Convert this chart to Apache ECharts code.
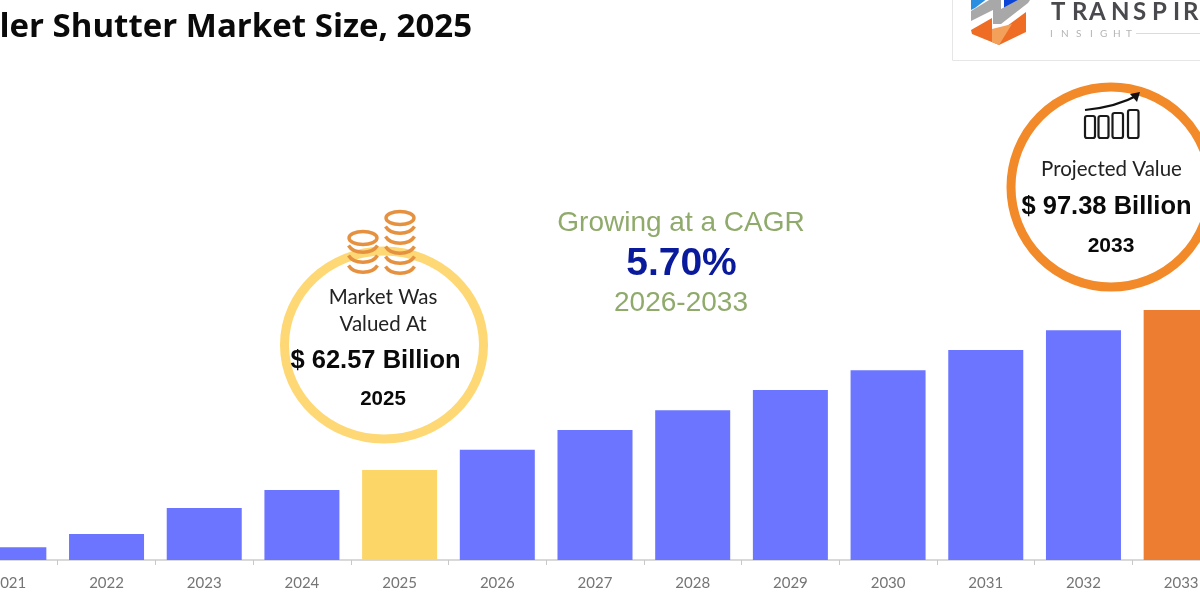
<!DOCTYPE html>
<html>
<head>
<meta charset="utf-8">
<title>Roller Shutter Market Size, 2025</title>
<script src="https://cdn.jsdelivr.net/npm/echarts@6/dist/echarts.min.js"></script>
<style>
html,body{margin:0;padding:0;background:#fff;overflow:hidden}
#chart{width:1200px;height:600px}
</style>
</head>
<body>
<div id="chart"></div>
<script>
// Market size in USD billion per year
const years = ['2021','2022','2023','2024','2025','2026','2027','2028','2029','2030','2031','2032','2033'];
const marketSize = [45.8,48.65,54.3,58.2,62.57,67.0,71.3,75.6,80.0,84.3,88.7,93.0,97.38];

const BASE_YEAR = '2025';
const FORECAST_YEAR = '2033';
const COLOR_BAR = '#6b75ff';
const COLOR_BASE = '#fdd668';
const COLOR_FORECAST = '#ed7d31';

const SANS = '"Liberation Sans", Arial, sans-serif';
const HUMAN = 'Lato, "Open Sans", sans-serif';
const HEADING = '"Open Sans", Lato, sans-serif';

const barColor = y => y === BASE_YEAR ? COLOR_BASE : y === FORECAST_YEAR ? COLOR_FORECAST : COLOR_BAR;

// Centred text helper for the callouts
const label = (x, y, text, size, fill, weight, family) => ({
  type: 'text', z: 20,
  style: { x, y, text, fill, font: `${weight || 'normal'} ${size}px ${family || SANS}`, textAlign: 'center', textVerticalAlign: 'middle' }
});

// One coin stack: a top ellipse and the curved rims below it
const coinStack = (cx, topY, rims) => {
  const out = [{ type: 'ellipse', z: 15, shape: { cx, cy: topY, rx: 14, ry: 6.5 }, style: { stroke: '#e6913f', lineWidth: 3.4, fill: 'none' } }];
  rims.forEach(y => out.push({
    type: 'bezierCurve', z: 15,
    shape: { x1: cx - 14.5, y1: y - 3.5, x2: cx + 14.5, y2: y - 3.5, cpx1: cx - 9, cpy1: y + 5.5, cpx2: cx + 9, cpy2: y + 5.5 },
    style: { stroke: '#e6913f', lineWidth: 3.4, fill: 'none' }
  }));
  return out;
};

// Four outlined columns with a rising arrow above them
const growthIcon = () => {
  const cols = [[1085,116,10,22],[1098.5,116,10,22],[1112.5,113,10.5,25],[1128,110,10.5,28]];
  const out = cols.map(c => ({
    type: 'rect', z: 15, shape: { x: c[0], y: c[1], width: c[2], height: c[3], r: 2 },
    style: { stroke: '#1a1a1a', lineWidth: 2.2, fill: 'none' }
  }));
  out.push({ type: 'bezierCurve', z: 15,
    shape: { x1: 1085, y1: 110, x2: 1138, y2: 95, cpx1: 1105, cpy1: 108, cpx2: 1122, cpy2: 104 },
    style: { stroke: '#111', lineWidth: 2.2, fill: 'none' } });
  out.push({ type: 'polygon', z: 15, shape: { points: [[1140,92],[1130,94],[1137,102]] }, style: { fill: '#111' } });
  return out;
};

// Brand block in the top right corner
const brand = () => {
  const out = [
    { type: 'rect', z: 5, shape: { x: 952.5, y: -10, width: 300, height: 70.5 }, style: { stroke: '#e6e6e6', lineWidth: 1, fill: '#fff' } },
    { type: 'polygon', z: 6, shape: { points: [[971,10],[971,-5],[992,-5],[975,8]] }, style: { fill: '#2a8fe0' } },
    { type: 'polygon', z: 6, shape: { points: [[1004,-5],[1030,-5],[1016,6],[1004,12]] }, style: { fill: '#0b45d8' } },
    { type: 'polygon', z: 6, shape: { points: [[971,21],[971,11],[994,-3],[1001,-3],[1001,9],[1029,-6],[1038,-2],[1030,0],[1028,3],[1001,24],[993,24],[993,10]] }, style: { fill: '#a8a8a8' } },
    { type: 'polygon', z: 6, shape: { points: [[971,30],[992,18],[992,29],[1003,29],[1026,12],[1026,32],[999,45],[972,34]] }, style: { fill: '#ee6c24' } },
    { type: 'polygon', z: 7, shape: { points: [[992,29],[1012,24],[999,45],[992,42]] }, style: { fill: '#f3a15a' } },
    { type: 'line', z: 6, shape: { x1: 1136, y1: 33.5, x2: 1200, y2: 33.5 }, style: { stroke: '#d5dde0', lineWidth: 1 } }
  ];
  const word = [['T',1051],['R',1072],['A',1089],['N',1111],['S',1133],['P',1152],['I',1173],['R',1183]];
  word.forEach(w => out.push({ type: 'text', z: 8,
    style: { x: w[1], y: 12.5, text: w[0], fill: '#4a4a4e', font: 'bold 24px ' + HUMAN, textAlign: 'left', textVerticalAlign: 'middle' } }));
  const sub = [['I',1050],['N',1061],['S',1076],['I',1090],['G',1100],['H',1113],['T',1126]];
  sub.forEach(w => out.push({ type: 'text', z: 8,
    style: { x: w[1], y: 33.5, text: w[0], fill: '#b4b4b4', font: '10px ' + HUMAN, textAlign: 'left', textVerticalAlign: 'middle' } }));
  return out;
};

const chart = echarts.init(document.getElementById('chart'), null, { renderer: 'canvas' });
chart.setOption({
  animation: false,
  backgroundColor: '#fff',
  grid: { left: -40, width: 1270, top: 60, bottom: 40, containLabel: false, outerBoundsMode: 'none' },
  xAxis: {
    type: 'category',
    data: years,
    axisLine: { lineStyle: { color: '#d9d9d9', width: 2 } },
    axisTick: { show: true, length: 5, lineStyle: { color: '#c8c8c8', width: 1 } },
    axisLabel: { color: '#757575', fontFamily: HUMAN, fontSize: 15, margin: 16, interval: 0, hideOverlap: false, showMinLabel: true, showMaxLabel: true }
  },
  // Baseline sits above zero, as the bars are drawn on a truncated scale
  yAxis: { type: 'value', min: 43, max: 151.76, show: false, splitLine: { show: false } },
  series: [{
    type: 'bar',
    barWidth: 75,
    data: marketSize.map((v, i) => ({ value: v, itemStyle: { color: barColor(years[i]) } }))
  }],
  graphic: [
    { type: 'text', z: 20, style: { x: 472, y: 27.5, text: 'Roller Shutter Market Size, 2025', fill: '#0a0a0a',
        font: 'bold 33px ' + HEADING, textAlign: 'right', textVerticalAlign: 'middle' } },

    ...brand(),

    { type: 'ellipse', z: 10, shape: { cx: 384, cy: 345, rx: 99.5, ry: 94 }, style: { stroke: '#fdd874', lineWidth: 9, fill: 'none' } },
    ...coinStack(363, 238, [249, 259, 269]),
    ...coinStack(400, 218, [230, 240, 250, 260, 270]),
    label(383, 297, 'Market Was', 20.5, '#222', 'normal', HUMAN),
    label(383, 324, 'Valued At', 20.5, '#222', 'normal', HUMAN),
    label(375.5, 361, '$ 62.57 Billion', 25.5, '#0a0a0a', 'bold'),
    label(383, 399, '2025', 20.5, '#0a0a0a', 'bold'),

    { type: 'circle', z: 10, shape: { cx: 1111, cy: 187, r: 100 }, style: { stroke: '#f28a2a', lineWidth: 9, fill: 'none' } },
    ...growthIcon(),
    label(1111.5, 169, 'Projected Value', 20.5, '#222', 'normal', HUMAN),
    label(1106.5, 207, '$ 97.38 Billion', 25.5, '#0a0a0a', 'bold'),
    label(1111, 246, '2033', 21, '#0a0a0a', 'bold'),

    label(681, 223, 'Growing at a CAGR', 28, '#8faa6b'),
    label(681.5, 264, '5.70%', 39, '#0a1a9c', 'bold'),
    label(681, 303, '2026-2033', 28, '#8faa6b')
  ]
});
</script>
</body>
</html>
